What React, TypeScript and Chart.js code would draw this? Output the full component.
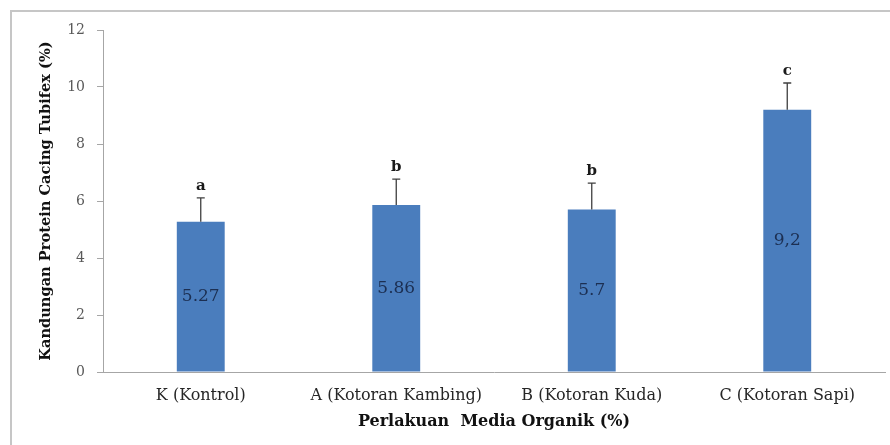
import React, { useEffect, useRef } from "react";
import { Chart, registerables } from "chart.js";

Chart.register(...registerables);

// Treatments and measured protein content (%)
const categories = [
  "K (Kontrol)",
  "A (Kotoran Kambing)",
  "B (Kotoran Kuda)",
  "C (Kotoran Sapi)",
];
const proteinValues = [5.27, 5.86, 5.7, 9.2];
const valueText = ["5.27", "5.86", "5.7", "9,2"];
const errorValues = [0.84, 0.91, 0.93, 0.94];
const significance = ["a", "b", "b", "c"];
const yTicks = [0, 2, 4, 6, 8, 10, 12];

const FONT = "'DejaVu Serif', 'Liberation Serif', serif";

const annotate = {
  id: "barAnnotations",
  afterDatasetsDraw(chart: any) {
    const { ctx } = chart;
    const meta = chart.getDatasetMeta(0);
    const y = chart.scales.y;
    ctx.save();
    meta.data.forEach((bar: any, i: number) => {
      const v = proteinValues[i];
      const top = y.getPixelForValue(v);
      const errTop = y.getPixelForValue(v + errorValues[i]);
      const x = bar.x;
      // upper error bar with cap
      ctx.strokeStyle = "#3f3f3f";
      ctx.lineWidth = 1.3;
      ctx.beginPath();
      ctx.moveTo(x, top);
      ctx.lineTo(x, errTop);
      ctx.moveTo(x - 4, errTop);
      ctx.lineTo(x + 4, errTop);
      ctx.stroke();
      // significance letter
      ctx.fillStyle = "#1a1a1a";
      ctx.font = `bold 15px ${FONT}`;
      ctx.textAlign = "center";
      ctx.textBaseline = "middle";
      ctx.fillText(significance[i], x, errTop - 12);
      // value inside the bar
      const mid = (top + y.getPixelForValue(0)) / 2;
      ctx.fillStyle = "#1c2f52";
      ctx.font = `17px ${FONT}`;
      ctx.fillText(valueText[i], x, mid);
    });
    ctx.restore();
  },
};

export default function App() {
  const ref = useRef<HTMLCanvasElement | null>(null);

  useEffect(() => {
    document.body.style.margin = "0";
    if (!ref.current) return;
    const chart = new Chart(ref.current, {
      type: "bar",
      data: {
        labels: categories,
        datasets: [
          {
            data: proteinValues,
            backgroundColor: "#4a7dbd",
            borderWidth: 0,
            categoryPercentage: 1,
            barPercentage: 0.245,
          },
        ],
      },
      options: {
        responsive: false,
        animation: false,
        layout: { padding: { left: 0, top: 30, right: 5, bottom: 0 } },
        plugins: {
          legend: { display: false },
          tooltip: { enabled: false },
        },
        scales: {
          x: {
            afterFit: (s: any) => {
              s.height = 73;
            },
            grid: { display: false, drawTicks: false },
            border: { display: true, color: "#a6a6a6", width: 1 },
            ticks: {
              padding: 14,
              color: "#262626",
              font: { family: FONT, size: 16 },
              maxRotation: 0,
              autoSkip: false,
            },
            title: {
              display: true,
              text: "Perlakuan  Media Organik (%)",
              color: "#111",
              font: { family: FONT, size: 16, weight: "bold" },
              padding: { top: 2, bottom: 14 },
            },
          },
          y: {
            min: 0,
            max: 12,
            afterFit: (s: any) => {
              s.width = 103;
            },
            afterBuildTicks: (s: any) => {
              s.ticks = yTicks.map((v) => ({ value: v }));
            },
            grid: {
              drawOnChartArea: false,
              drawTicks: true,
              tickLength: 6,
              color: "#a6a6a6",
            },
            border: { display: true, color: "#a6a6a6", width: 1 },
            ticks: {
              padding: 12,
              color: "#595959",
              font: { family: FONT, size: 14 },
            },
            title: {
              display: true,
              text: "Kandungan Protein Cacing Tubifex (%)",
              color: "#111",
              font: { family: FONT, size: 14.6, weight: "bold" },
              padding: { top: 37, bottom: 0 },
            },
          },
        },
      },
      plugins: [annotate],
    });
    return () => chart.destroy();
  }, []);

  return (
    <div style={{ position: "relative", width: 890, height: 445, background: "#fff", overflow: "hidden" }}>
      <div
        style={{
          position: "absolute",
          left: 10,
          top: 10,
          width: 880,
          height: 435,
          borderLeft: "2px solid #c6c6c6",
          borderTop: "2px solid #c6c6c6",
        }}
      />
      <canvas ref={ref} width={890} height={445} style={{ position: "absolute", left: 0, top: 0 }} />
    </div>
  );
}
